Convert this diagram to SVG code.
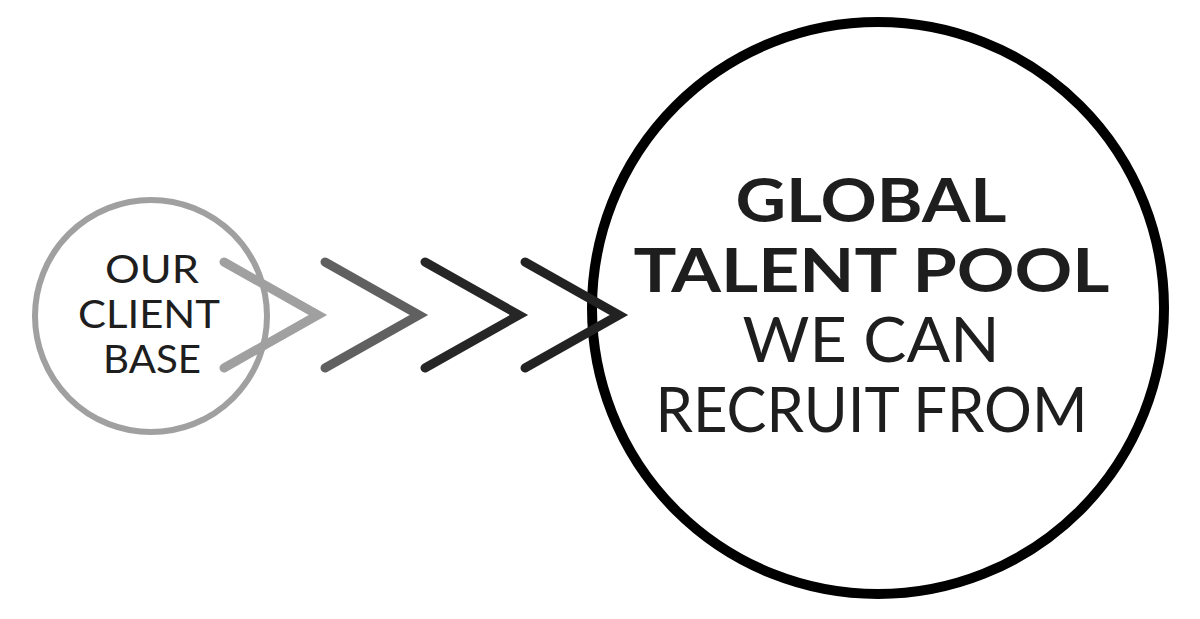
<svg xmlns="http://www.w3.org/2000/svg" width="1200" height="619" viewBox="0 0 1200 619">
<style>
.chev{fill:none;stroke-width:9;stroke-linecap:round;stroke-linejoin:miter}
.t{font-family:Lato,"Open Sans","Liberation Sans",sans-serif;text-anchor:middle;fill:#1e1e1e}
</style>
<rect width="1200" height="619" fill="#fff"/>
<g id="client-base">
<circle cx="151" cy="316" r="116" fill="#fff" stroke="#a0a0a0" stroke-width="6"/>
<text class="t" font-size="39" x="152" y="283" textLength="94" lengthAdjust="spacingAndGlyphs">OUR</text>
<text class="t" font-size="39" x="149" y="328" textLength="142" lengthAdjust="spacingAndGlyphs">CLIENT</text>
<text class="t" font-size="39" x="152" y="373" textLength="98" lengthAdjust="spacingAndGlyphs">BASE</text>
</g>
<g id="talent-pool">
<circle cx="878" cy="308" r="286" fill="#fff" stroke="#000" stroke-width="10"/>
<text class="t" font-size="61" font-weight="bold" x="871" y="222" textLength="271" lengthAdjust="spacingAndGlyphs">GLOBAL</text>
<text class="t" font-size="61" font-weight="bold" x="871.5" y="292" textLength="476" lengthAdjust="spacingAndGlyphs">TALENT POOL</text>
<text class="t" font-size="61" x="871" y="362" textLength="257" lengthAdjust="spacingAndGlyphs">WE CAN</text>
<text class="t" font-size="61" x="871.5" y="432" textLength="432" lengthAdjust="spacingAndGlyphs">RECRUIT FROM</text>
</g>
<g id="connectors">
<polyline class="chev" stroke="#a0a0a0" points="224,262 318,315 224,368"/>
<polyline class="chev" stroke="#606060" points="325,262 419,315 325,368"/>
<polyline class="chev" stroke="#262626" points="425,262 519,315 425,368"/>
<polyline class="chev" stroke="#222" points="525,262 619,315 525,368"/>
</g>
</svg>
